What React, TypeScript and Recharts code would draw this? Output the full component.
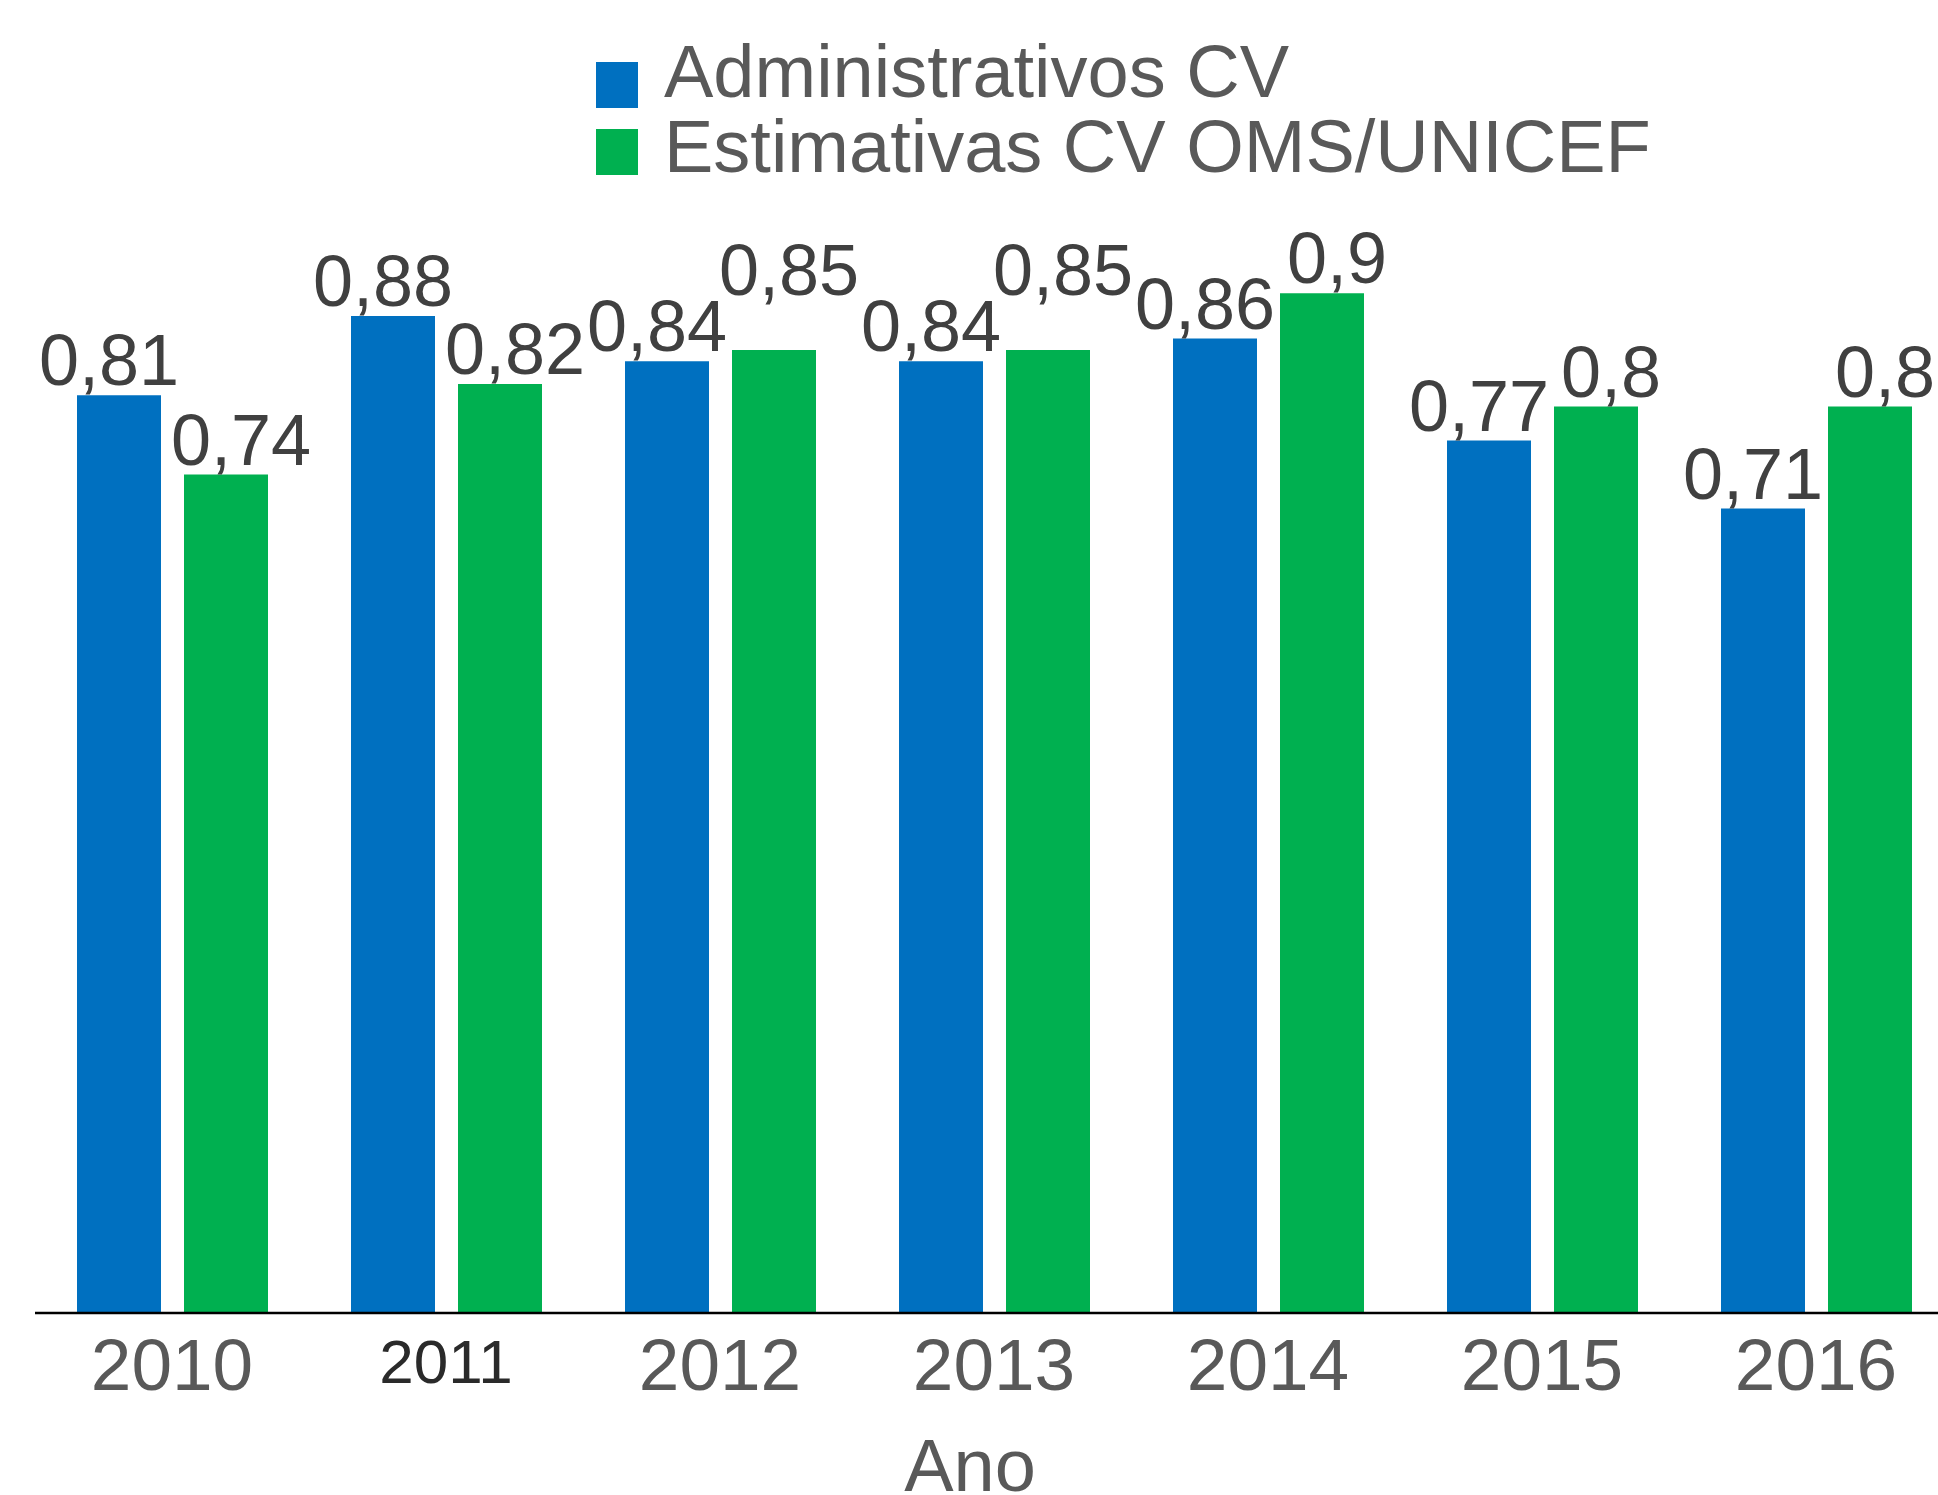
import { BarChart, Bar, XAxis, YAxis, LabelList, Legend } from "recharts";

const years = ["2010", "2011", "2012", "2013", "2014", "2015", "2016"];
const adminValues = [0.81, 0.88, 0.84, 0.84, 0.86, 0.77, 0.71];
const omsValues = [0.74, 0.82, 0.85, 0.85, 0.9, 0.8, 0.8];
const seriesNames = ["Administrativos CV", "Estimativas CV OMS/UNICEF"];

const BLUE = "#0070C0";
const GREEN = "#00B050";
const FONT = "'Liberation Sans', Arial, sans-serif";

const data = years.map((year, i) => ({
  year,
  admin: adminValues[i],
  oms: omsValues[i],
}));

const fmt = (v: any) => String(v).replace(".", ",");

function YearTick({ x, y, payload }: any) {
  // 2011 is set a bit smaller and darker in the original
  const small = payload.value === "2011";
  return (
    <text
      x={x}
      y={y + (small ? 70 : 77)}
      textAnchor="middle"
      fontSize={small ? 62 : 73}
      fill={small ? "#2a2a2a" : "#595959"}
      fontFamily={FONT}
    >
      {payload.value}
    </text>
  );
}

// value label above a bar; green labels are lifted when they would collide
// with the blue label of the same year
function makeLabel(series: "admin" | "oms") {
  return function BarLabel(props: any) {
    const { x, y, width, value, index } = props;
    let dx = series === "admin" ? -10 : 15;
    let lift = 10;
    if (series === "oms" && Math.abs(omsValues[index] - adminValues[index]) < 0.02) lift = 55;
    return (
      <text
        x={x + width / 2 + dx}
        y={y - lift}
        textAnchor="middle"
        fontSize={72}
        fill="#404040"
        fontFamily={FONT}
      >
        {fmt(value)}
      </text>
    );
  };
}

function LegendBox() {
  const colors = [BLUE, GREEN];
  return (
    <svg width={1100} height={130} style={{ overflow: "visible", display: "block" }}>
      {seriesNames.map((name, i) => (
        <g key={name}>
          <rect x={0} y={i * 67} width={42} height={46} fill={colors[i]} />
          <text x={68} y={35 + i * 75} fontSize={74} fill="#595959" fontFamily={FONT}>
            {name}
          </text>
        </g>
      ))}
    </svg>
  );
}

export default function App() {
  return (
    <div
      style={{
        position: "fixed",
        left: 0,
        top: 0,
        width: 1938,
        height: 1495,
        overflow: "hidden",
        background: "#fff",
      }}
    >
      <BarChart
        width={1960}
        height={1495}
        data={data}
        margin={{ top: 180, right: 7, left: 35, bottom: 0 }}
        barCategoryGap={42}
        barGap={23}
      >
        <XAxis
          dataKey="year"
          height={182}
          tickLine={false}
          tickSize={0}
          tickMargin={0}
          axisLine={{ stroke: "#000", strokeWidth: 2.5 }}
          tick={<YearTick />}
          interval={0}
          label={{
            value: "Ano",
            position: "insideBottom",
            offset: 4,
            dx: -24,
            fontSize: 74,
            fill: "#595959",
            fontFamily: FONT,
          }}
        />
        <YAxis hide domain={[0, 1]} />
        <Legend
          layout="vertical"
          align="center"
          verticalAlign="middle"
          content={<LegendBox />}
          wrapperStyle={{ position: "absolute", left: 596, top: 62, width: 1100, height: 130 }}
        />
        <Bar dataKey="admin" name={seriesNames[0]} fill={BLUE} isAnimationActive={false}>
          <LabelList dataKey="admin" content={makeLabel("admin")} />
        </Bar>
        <Bar dataKey="oms" name={seriesNames[1]} fill={GREEN} isAnimationActive={false}>
          <LabelList dataKey="oms" content={makeLabel("oms")} />
        </Bar>
      </BarChart>
    </div>
  );
}
